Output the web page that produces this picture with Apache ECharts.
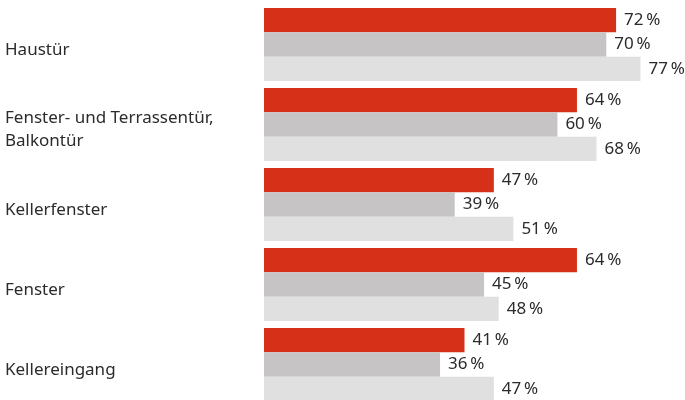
<!DOCTYPE html>
<html>
<head>
<meta charset="utf-8">
<script src="https://cdn.jsdelivr.net/npm/echarts@6/dist/echarts.min.js"></script>
<style>
  html, body { margin: 0; padding: 0; background: #fff; }
  #chart { width: 685px; height: 400px; }
</style>
</head>
<body>
<div id="chart"></div>
<script>
const categories = ['Haustür', 'Fenster- und Terrassentür,\nBalkontür', 'Kellerfenster', 'Fenster', 'Kellereingang'];
const serieA = [72, 64, 47, 64, 41];
const serieB = [70, 60, 39, 45, 36];
const serieC = [77, 68, 51, 48, 47];
const colors = ['#d63118', '#c6c4c4', '#e0e0e0'];

const font = '"Noto Sans", "Open Sans", sans-serif';

function makeSeries(data, color) {
  return {
    type: 'bar',
    data: data,
    barGap: '0%',
    barCategoryGap: '8.75%',
    itemStyle: { color: color },
    label: {
      show: true,
      position: 'right',
      distance: 8,
      color: '#2b2b2b',
      fontSize: 17,
      fontFamily: font,
      formatter: p => p.value + '\u2009%'
    },
    animation: false
  };
}

const myChart = echarts.init(document.getElementById('chart'));
myChart.setOption({
  backgroundColor: '#fff',
  animation: false,
  grid: { left: 264, top: 4.5, width: 489, height: 400, outerBoundsMode: 'none', containLabel: false },
  xAxis: { type: 'value', min: 0, max: 100, show: false },
  yAxis: {
    type: 'category',
    data: categories,
    inverse: true,
    axisLine: { show: false },
    axisTick: { show: false },
    axisLabel: {
      align: 'left',
      margin: 259,
      // empty spacer line pushes the text a few px below the band centre
      formatter: v => '{s| }\n' + v.split('\n').map(l => '{t|' + l + '}').join('\n'),
      rich: {
        s: { fontSize: 1, lineHeight: 11 },
        t: { fontSize: 17, lineHeight: 23, fontFamily: font, color: '#2b2b2b' }
      }
    }
  },
  series: [
    makeSeries(serieA, colors[0]),
    makeSeries(serieB, colors[1]),
    makeSeries(serieC, colors[2])
  ]
});
</script>
</body>
</html>
